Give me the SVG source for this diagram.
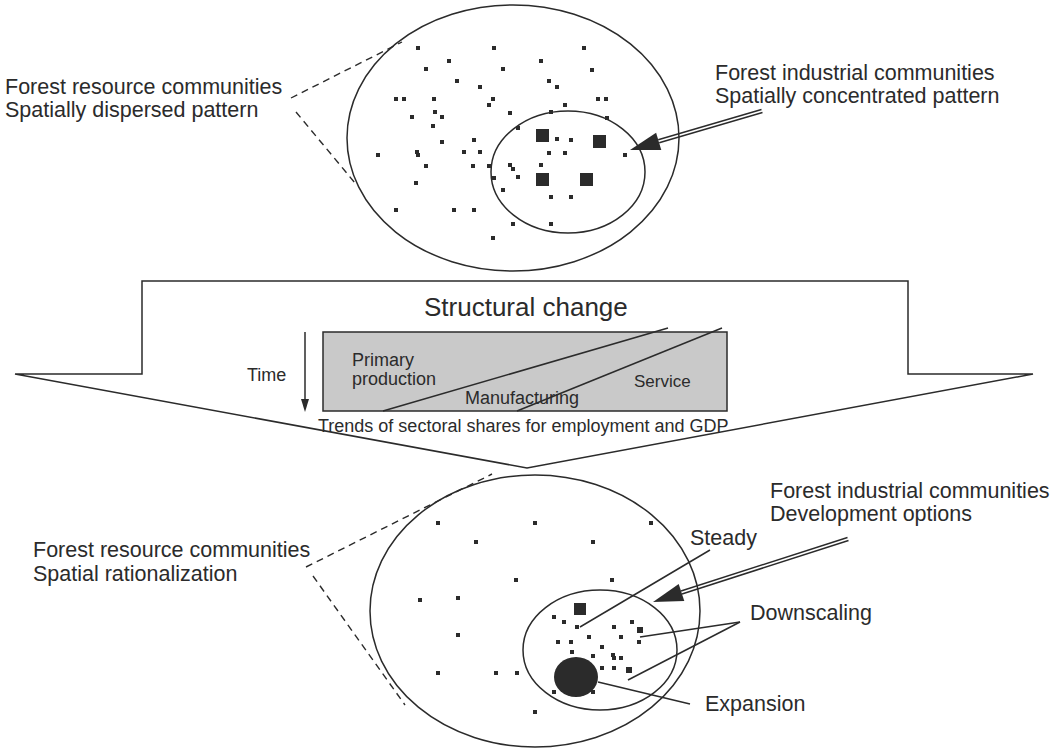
<svg xmlns="http://www.w3.org/2000/svg" width="1062" height="750" viewBox="0 0 1062 750">
<style>
.ln{fill:none;stroke:#2b2b2b;stroke-width:1.5}
.dash{fill:none;stroke:#2b2b2b;stroke-width:1.4;stroke-dasharray:7 5}
.lbl{font-family:"Liberation Sans",Arial,sans-serif;font-size:21.5px;fill:#2b2b2b}
.sm{font-family:"Liberation Sans",Arial,sans-serif;font-size:17px;fill:#2b2b2b}
.dk{fill:#2b2b2b}
</style>
<defs>
<rect id="d" x="-2" y="-2" width="4" height="4" fill="#2b2b2b"/>
</defs>
<rect width="1062" height="750" fill="#ffffff"/>

<g id="structural-change">
<polygon class="ln" points="15,374 142,374 142,281 908,281 908,374 1033,374 527,468"/>
<text class="lbl" x="424" y="316" style="font-size:26px">Structural change</text>
</g>

<g id="sector-chart">
<rect x="323" y="332" width="404" height="79" fill="#c9c9c9" stroke="#2b2b2b" stroke-width="1.5"/>
<line class="ln" x1="383" y1="411" x2="668" y2="328"/>
<line class="ln" x1="517" y1="411" x2="722" y2="328"/>
<text class="sm" x="352" y="366" style="font-size:18px">Primary</text>
<text class="sm" x="352" y="385" style="font-size:18px">production</text>
<text class="sm" x="465" y="404" style="font-size:18px">Manufacturing</text>
<text class="sm" x="634" y="387" style="font-size:17px">Service</text>
<text class="sm" x="318" y="432" style="font-size:18px">Trends of sectoral shares for employment and GDP</text>
</g>

<g id="time-axis">
<line class="ln" x1="305" y1="332" x2="305" y2="402"/>
<polygon class="dk" points="305,412 301,399 309,399"/>
<text class="sm" x="247" y="381" style="font-size:18px">Time</text>
</g>

<g id="top-communities">
<ellipse class="ln" cx="513" cy="138" rx="166" ry="133"/>
<ellipse class="ln" cx="568" cy="172" rx="77" ry="61"/>
<rect class="dk" x="536" y="129" width="13" height="13"/>
<rect class="dk" x="593" y="135" width="13" height="13"/>
<rect class="dk" x="536" y="173" width="13" height="13"/>
<rect class="dk" x="580" y="173" width="13" height="13"/>
<use href="#d" x="418" y="48"/><use href="#d" x="494" y="48"/><use href="#d" x="449" y="61"/><use href="#d" x="541" y="61"/>
<use href="#d" x="426" y="69"/><use href="#d" x="503" y="69"/><use href="#d" x="457" y="81"/><use href="#d" x="480" y="87"/>
<use href="#d" x="549" y="81"/><use href="#d" x="557" y="87"/><use href="#d" x="396" y="99"/><use href="#d" x="404" y="99"/>
<use href="#d" x="434" y="99"/><use href="#d" x="493" y="99"/><use href="#d" x="489" y="105"/><use href="#d" x="565" y="105"/>
<use href="#d" x="435" y="112"/><use href="#d" x="510" y="113"/><use href="#d" x="551" y="112"/><use href="#d" x="412" y="117"/>
<use href="#d" x="442" y="117"/><use href="#d" x="433" y="126"/><use href="#d" x="518" y="128"/><use href="#d" x="557" y="139"/>
<use href="#d" x="571" y="140"/><use href="#d" x="474" y="140"/><use href="#d" x="442" y="142"/><use href="#d" x="378" y="155"/>
<use href="#d" x="417" y="152"/><use href="#d" x="418" y="155"/><use href="#d" x="464" y="152"/><use href="#d" x="480" y="152"/>
<use href="#d" x="549" y="153"/><use href="#d" x="565" y="153"/><use href="#d" x="426" y="166"/><use href="#d" x="473" y="166"/>
<use href="#d" x="489" y="166"/><use href="#d" x="510" y="165"/><use href="#d" x="513" y="169"/><use href="#d" x="541" y="165"/>
<use href="#d" x="494" y="178"/><use href="#d" x="518" y="177"/><use href="#d" x="416" y="183"/><use href="#d" x="503" y="190"/>
<use href="#d" x="551" y="197"/><use href="#d" x="571" y="197"/><use href="#d" x="396" y="210"/><use href="#d" x="454" y="210"/>
<use href="#d" x="474" y="210"/><use href="#d" x="513" y="224"/><use href="#d" x="551" y="224"/><use href="#d" x="493" y="238"/>
<use href="#d" x="584" y="48"/><use href="#d" x="592" y="70"/><use href="#d" x="598" y="99"/><use href="#d" x="606" y="99"/>
<use href="#d" x="607" y="118"/><use href="#d" x="625" y="155"/>
</g>

<g id="bottom-communities">
<ellipse class="ln" cx="535" cy="611" rx="165" ry="136"/>
<ellipse class="ln" cx="600" cy="650" rx="77" ry="60"/>
<ellipse class="dk" cx="576" cy="677" rx="22" ry="20"/>
<rect class="dk" x="574" y="603" width="12" height="12"/>
<rect class="dk" x="637" y="627" width="6" height="6"/>
<rect class="dk" x="626" y="667" width="6" height="6"/>
<use href="#d" x="438" y="523"/><use href="#d" x="535" y="523"/><use href="#d" x="651" y="523"/><use href="#d" x="476" y="542"/>
<use href="#d" x="593" y="542"/><use href="#d" x="516" y="580"/><use href="#d" x="612" y="580"/><use href="#d" x="420" y="600"/>
<use href="#d" x="458" y="598"/><use href="#d" x="458" y="635"/><use href="#d" x="438" y="673"/><use href="#d" x="496" y="673"/>
<use href="#d" x="517" y="673"/><use href="#d" x="535" y="712"/>
<use href="#d" x="554" y="617"/><use href="#d" x="564" y="622"/><use href="#d" x="577" y="627"/><use href="#d" x="614" y="627"/>
<use href="#d" x="632" y="622"/><use href="#d" x="589" y="637"/><use href="#d" x="621" y="637"/><use href="#d" x="558" y="642"/>
<use href="#d" x="571" y="642"/><use href="#d" x="639" y="642"/><use href="#d" x="602" y="647"/><use href="#d" x="572" y="652"/>
<use href="#d" x="593" y="656"/><use href="#d" x="613" y="655"/><use href="#d" x="614" y="658"/><use href="#d" x="621" y="658"/>
<use href="#d" x="602" y="668"/><use href="#d" x="614" y="668"/><use href="#d" x="554" y="692"/><use href="#d" x="593" y="692"/>
</g>

<g id="label-top-left">
<text class="lbl" x="5" y="94">Forest resource communities</text>
<text class="lbl" x="5" y="117">Spatially dispersed pattern</text>
</g>
<g id="label-top-right">
<text class="lbl" x="715" y="80">Forest industrial communities</text>
<text class="lbl" x="715" y="103">Spatially concentrated pattern</text>
</g>
<g id="label-bottom-left">
<text class="lbl" x="33" y="557">Forest resource communities</text>
<text class="lbl" x="33" y="581">Spatial rationalization</text>
</g>
<g id="label-bottom-right">
<text class="lbl" x="770" y="498">Forest industrial communities</text>
<text class="lbl" x="770" y="521">Development options</text>
</g>
<g id="label-steady"><text class="lbl" x="690" y="545">Steady</text></g>
<g id="label-downscaling"><text class="lbl" x="750" y="620">Downscaling</text></g>
<g id="label-expansion"><text class="lbl" x="705" y="711">Expansion</text></g>

<g id="connectors">
<line class="dash" x1="291" y1="98" x2="402" y2="42"/>
<line class="dash" x1="296" y1="112" x2="355" y2="183"/>
<line class="dash" x1="306" y1="567" x2="492" y2="474"/>
<line class="dash" x1="313" y1="576" x2="405" y2="705"/>
<line class="ln" x1="762.5" y1="112.5" x2="659.2" y2="142.8" stroke-width="1.2"/>
<line class="ln" x1="761.5" y1="109.5" x2="658.2" y2="139.8" stroke-width="1.2"/>
<polygon class="dk" points="630,150 661.3,149.9 656.1,132.7"/>
<line class="ln" x1="848.5" y1="540.5" x2="682" y2="594" stroke-width="1.2"/>
<line class="ln" x1="847.5" y1="537.5" x2="681" y2="591" stroke-width="1.2"/>
<polygon class="dk" points="653,602 684.3,601 678.7,584"/>
<line class="ln" x1="710" y1="550" x2="580" y2="627"/>
<line class="ln" x1="740" y1="622" x2="640" y2="637"/>
<line class="ln" x1="740" y1="622" x2="628" y2="680"/>
<line class="ln" x1="598" y1="682" x2="690" y2="704"/>
</g>
</svg>
